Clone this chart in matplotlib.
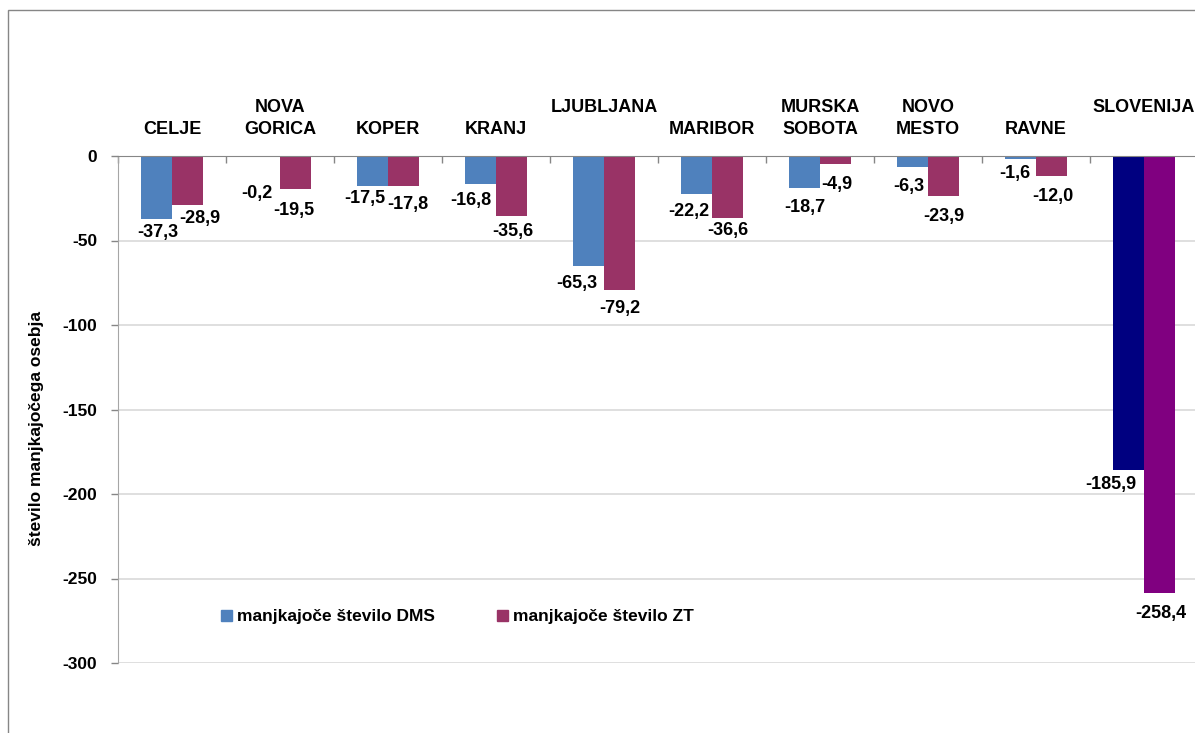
import matplotlib.pyplot as plt
from matplotlib.patches import Rectangle
import numpy as np

plt.rcParams['font.family'] = ['Liberation Sans', 'DejaVu Sans']
plt.rcParams['font.weight'] = 'bold'
plt.rcParams['axes.unicode_minus'] = False

regions = ['CELJE', 'NOVA\nGORICA', 'KOPER', 'KRANJ', 'LJUBLJANA\n ', 'MARIBOR',
           'MURSKA\nSOBOTA', 'NOVO\nMESTO', 'RAVNE', 'SLOVENIJA\n ']
dms = [-37.3, -0.2, -17.5, -16.8, -65.3, -22.2, -18.7, -6.3, -1.6, -185.9]
zt = [-28.9, -19.5, -17.8, -35.6, -79.2, -36.6, -4.9, -23.9, -12.0, -258.4]
series = ['manjkajoče število DMS', 'manjkajoče število ZT']

# label nudges in pixels (dx, dy below bar end)
dms_off = [(1, 13), (-8, 37), (-8, 13), (-10, 16), (-12, 17), (-8, 18),
           (0, 20), (-4, 20), (-6, 15), (-18, 14)]
zt_off = [(12, 14), (-2, 22), (4, 18), (1, 15), (0, 19), (0, 13),
          (1, 20), (0, 20), (1, 20), (1, 21)]

blue, plum = '#4F81BD', '#993366'
navy, purple = '#000080', '#800080'

fig = plt.figure(figsize=(11.95, 7.33), dpi=100)
W, H = 1195, 733
fig.patches.append(Rectangle((8 / W, -0.05), 1.1, 1 - 10 / H + 0.05,
                             transform=fig.transFigure, fill=False,
                             edgecolor='#868686', linewidth=1.0))

ax = fig.add_axes([118 / W, 70 / H, 1080 / W, 507 / H])
ax.patch.set_alpha(0)

x = np.arange(len(regions)) + 0.5
w = 0.287
c1 = [blue] * 9 + [navy]
c2 = [plum] * 9 + [purple]
b1 = ax.bar(x - w / 2, dms, w, color=c1, zorder=3)
b2 = ax.bar(x + w / 2, zt, w, color=c2, zorder=3)

ax.set_xlim(0, len(regions))
ax.set_ylim(-300, 0)
ax.set_yticks(np.arange(-300, 1, 50))
ax.yaxis.grid(True, color='#d9d9d9', linewidth=1.2, zorder=0)
ax.tick_params(axis='y', length=5, width=1, color='#868686', pad=10, labelsize=12.5)
for lbl in ax.get_yticklabels():
    lbl.set_fontweight('bold')

ax.xaxis.tick_top()
ax.set_xticks(np.arange(len(regions) + 1))
ax.tick_params(axis='x', direction='in', length=5, width=1, color='#868686',
               labeltop=False)
for s in ['right', 'bottom']:
    ax.spines[s].set_visible(False)
ax.spines['left'].set_color('#a6a6a6')
ax.spines['top'].set_color('#868686')
ax.spines['top'].set_zorder(4)

for xi, name in zip(x, regions):
    ax.annotate(name, (xi, 0), xytext=(0, 18), textcoords='offset pixels',
                ha='center', va='bottom', fontsize=13, fontweight='bold',
                linespacing=1.38)

for bars, vals, offs in [(b1, dms, dms_off), (b2, zt, zt_off)]:
    for bar, v, (dx, dy) in zip(bars, vals, offs):
        ax.annotate(f'{v:.1f}'.replace('.', ','),
                    (bar.get_x() + bar.get_width() / 2, v),
                    xytext=(dx, -dy), textcoords='offset pixels',
                    ha='center', va='center', fontsize=13, fontweight='bold',
                    zorder=5)

fig.text(37 / W, 1 - 429 / H, 'število manjkajočega osebja', rotation=90,
         ha='center', va='center', fontsize=12.5, fontweight='bold')

leg = ax.legend(handles=[Rectangle((0, 0), 1, 1, color=blue),
                         Rectangle((0, 0), 1, 1, color=plum)],
                labels=series, ncol=2, frameon=False,
                prop={'size': 12.5, 'weight': 'bold'},
                loc='center left', bbox_to_anchor=(221 / W, 1 - 617 / H),
                bbox_transform=fig.transFigure, borderpad=0, borderaxespad=0,
                handlelength=0.63, handleheight=0.67, handletextpad=0.29,
                columnspacing=3.57)

fig.savefig('out.png', dpi=100)
